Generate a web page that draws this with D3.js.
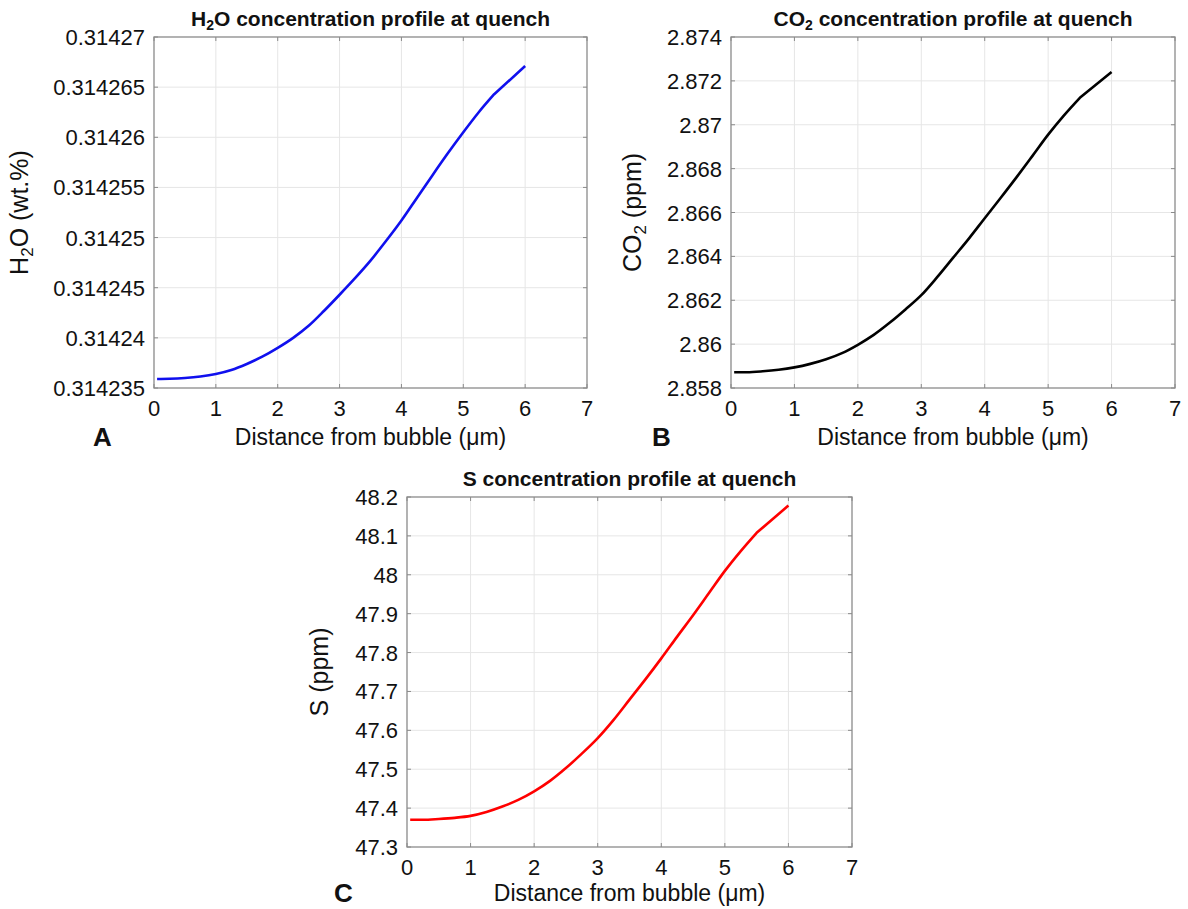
<!DOCTYPE html>
<html>
<head>
<meta charset="utf-8">
<script src="https://cdn.jsdelivr.net/npm/d3@7"></script>
<style>
  html, body { margin: 0; padding: 0; background: #fff; }
  svg { display: block; }
  text { font-family: "Liberation Sans", Arial, sans-serif; fill: #111; }
</style>
</head>
<body>
<svg id="fig" width="1188" height="909"></svg>
<script>
// Distance from the bubble wall (µm)
const distance = [0.05, 0.25, 0.5, 0.75, 1.0, 1.25, 1.5, 1.75, 2.0, 2.25, 2.5, 2.75,
  3.0, 3.25, 3.5, 3.75, 4.0, 4.25, 4.5, 4.75, 5.0, 5.25, 5.5, 6.0];

// H2O concentration (wt.%)
const h2o = [0.31423590, 0.31423592, 0.31423600, 0.31423615, 0.31423640, 0.31423680,
  0.31423740, 0.31423812, 0.31423900, 0.31424000, 0.31424120, 0.31424270, 0.31424430,
  0.31424595, 0.31424770, 0.31424965, 0.31425170, 0.31425395, 0.31425620, 0.31425840,
  0.31426050, 0.31426250, 0.31426430, 0.31426710];

// CO2 concentration (ppm)
const co2 = [2.85872, 2.85872, 2.85876, 2.85883, 2.85894, 2.85910, 2.85931, 2.85959,
  2.85997, 2.86042, 2.86097, 2.86158, 2.86223, 2.86305, 2.86393, 2.86481, 2.86574,
  2.86666, 2.86760, 2.86857, 2.86955, 2.87043, 2.87123, 2.87240];

// S concentration (ppm)
const sulfur = [47.370, 47.370, 47.372, 47.375, 47.380, 47.390, 47.404, 47.421, 47.443,
  47.470, 47.503, 47.540, 47.580, 47.627, 47.679, 47.731, 47.785, 47.841, 47.896, 47.953,
  48.010, 48.061, 48.108, 48.178];

// Axis tick values and labels
const xTicks = [0, 1, 2, 3, 4, 5, 6, 7];
const h2oTicks = [0.314235, 0.31424, 0.314245, 0.31425, 0.314255, 0.31426, 0.314265, 0.31427];
const h2oTickLabels = ["0.314235", "0.31424", "0.314245", "0.31425", "0.314255", "0.31426", "0.314265", "0.31427"];
const co2Ticks = [2.858, 2.86, 2.862, 2.864, 2.866, 2.868, 2.87, 2.872, 2.874];
const co2TickLabels = ["2.858", "2.86", "2.862", "2.864", "2.866", "2.868", "2.87", "2.872", "2.874"];
const sTicks = [47.3, 47.4, 47.5, 47.6, 47.7, 47.8, 47.9, 48, 48.1, 48.2];
const sTickLabels = ["47.3", "47.4", "47.5", "47.6", "47.7", "47.8", "47.9", "48", "48.1", "48.2"];

const svg = d3.select("#fig");

function panel(cfg) {
  const { box, values, yTicks, yLabels, color, title, ylab, letter } = cfg;
  const x = d3.scaleLinear().domain([0, 7]).range([box.l, box.r]);
  const y = d3.scaleLinear().domain([yTicks[0], yTicks[yTicks.length - 1]]).range([box.b, box.t]);
  const g = svg.append("g");
  const frameColor = "#8a8a8a";
  const tickLen = 4;

  // grid
  g.append("g").selectAll("line").data(xTicks.slice(1, -1)).join("line")
    .attr("x1", d => x(d)).attr("x2", d => x(d)).attr("y1", box.t).attr("y2", box.b)
    .attr("stroke", "#e6e6e6").attr("stroke-width", 1);
  g.append("g").selectAll("line").data(yTicks.slice(1, -1)).join("line")
    .attr("y1", d => y(d)).attr("y2", d => y(d)).attr("x1", box.l).attr("x2", box.r)
    .attr("stroke", "#e6e6e6").attr("stroke-width", 1);

  // inward ticks on all four sides
  const tk = g.append("g").attr("stroke", frameColor).attr("stroke-width", 1);
  xTicks.forEach(d => {
    tk.append("line").attr("x1", x(d)).attr("x2", x(d)).attr("y1", box.b).attr("y2", box.b - tickLen);
    tk.append("line").attr("x1", x(d)).attr("x2", x(d)).attr("y1", box.t).attr("y2", box.t + tickLen);
  });
  yTicks.forEach(d => {
    tk.append("line").attr("y1", y(d)).attr("y2", y(d)).attr("x1", box.l).attr("x2", box.l + tickLen);
    tk.append("line").attr("y1", y(d)).attr("y2", y(d)).attr("x1", box.r).attr("x2", box.r - tickLen);
  });

  // data line: smooth profile up to 5.5 µm, then a straight final segment
  const pts = distance.map((d, i) => [d, values[i]]);
  const smooth = d3.line().curve(d3.curveMonotoneX).x(d => x(d[0])).y(d => y(d[1]));
  const last = pts[pts.length - 1];
  g.append("path")
    .attr("fill", "none").attr("stroke", color).attr("stroke-width", 2.6)
    .attr("stroke-linejoin", "round")
    .attr("d", smooth(pts.slice(0, -1)) + `L${x(last[0])},${y(last[1])}`);

  // frame
  g.append("rect").attr("x", box.l).attr("y", box.t)
    .attr("width", box.r - box.l).attr("height", box.b - box.t)
    .attr("fill", "none").attr("stroke", frameColor).attr("stroke-width", 1.3);

  // tick labels
  g.append("g").selectAll("text").data(xTicks).join("text")
    .attr("x", d => x(d)).attr("y", box.b + 28)
    .attr("text-anchor", "middle").attr("font-size", 22).text(d => d);
  g.append("g").selectAll("text").data(yTicks).join("text")
    .attr("x", box.l - 9).attr("y", d => y(d) + 8)
    .attr("text-anchor", "end").attr("font-size", 22).text((d, i) => yLabels[i]);

  // x-axis label
  g.append("text").attr("x", (box.l + box.r) / 2).attr("y", box.b + cfg.xlabDy)
    .attr("text-anchor", "middle").attr("font-size", 23).text("Distance from bubble (\u03bcm)");

  // title with optional subscript
  const t = g.append("text").attr("x", (box.l + box.r) / 2).attr("y", box.t - 11)
    .attr("text-anchor", "middle").attr("font-size", 21).attr("font-weight", "bold");
  title.forEach(part => {
    const s = t.append("tspan").text(part.text);
    if (part.sub) s.attr("font-size", 14).attr("dy", 4);
    else if (part.after) s.attr("dy", -4);
  });

  // y-axis label
  const yl = g.append("text")
    .attr("transform", `translate(${cfg.ylabX},${(box.t + box.b) / 2}) rotate(-90)`)
    .attr("text-anchor", "middle").attr("font-size", 25);
  ylab.forEach(part => {
    const s = yl.append("tspan").text(part.text);
    if (part.sub) s.attr("font-size", 17).attr("dy", 5);
    else if (part.after) s.attr("dy", -5);
  });

  // panel letter
  g.append("text").attr("x", cfg.letterX).attr("y", cfg.letterY)
    .attr("font-size", 26).attr("font-weight", "bold").text(letter);
}

panel({
  box: { l: 154, r: 587, t: 37, b: 388 },
  values: h2o, yTicks: h2oTicks, yLabels: h2oTickLabels, color: "#1010ee",
  title: [{ text: "H" }, { text: "2", sub: true }, { text: "O concentration profile at quench", after: true }],
  ylab: [{ text: "H" }, { text: "2", sub: true }, { text: "O (wt.%)", after: true }],
  ylabX: 28, xlabDy: 57, letter: "A", letterX: 93, letterY: 446
});

panel({
  box: { l: 731, r: 1175, t: 37, b: 388 },
  values: co2, yTicks: co2Ticks, yLabels: co2TickLabels, color: "#000000",
  title: [{ text: "CO" }, { text: "2", sub: true }, { text: " concentration profile at quench", after: true }],
  ylab: [{ text: "CO" }, { text: "2", sub: true }, { text: " (ppm)", after: true }],
  ylabX: 641, xlabDy: 57, letter: "B", letterX: 652, letterY: 446
});

panel({
  box: { l: 407, r: 852, t: 497, b: 847 },
  values: sulfur, yTicks: sTicks, yLabels: sTickLabels, color: "#ff0000",
  title: [{ text: "S concentration profile at quench" }],
  ylab: [{ text: "S (ppm)" }],
  ylabX: 328, xlabDy: 54, letter: "C", letterX: 334, letterY: 902
});
</script>
</body>
</html>
